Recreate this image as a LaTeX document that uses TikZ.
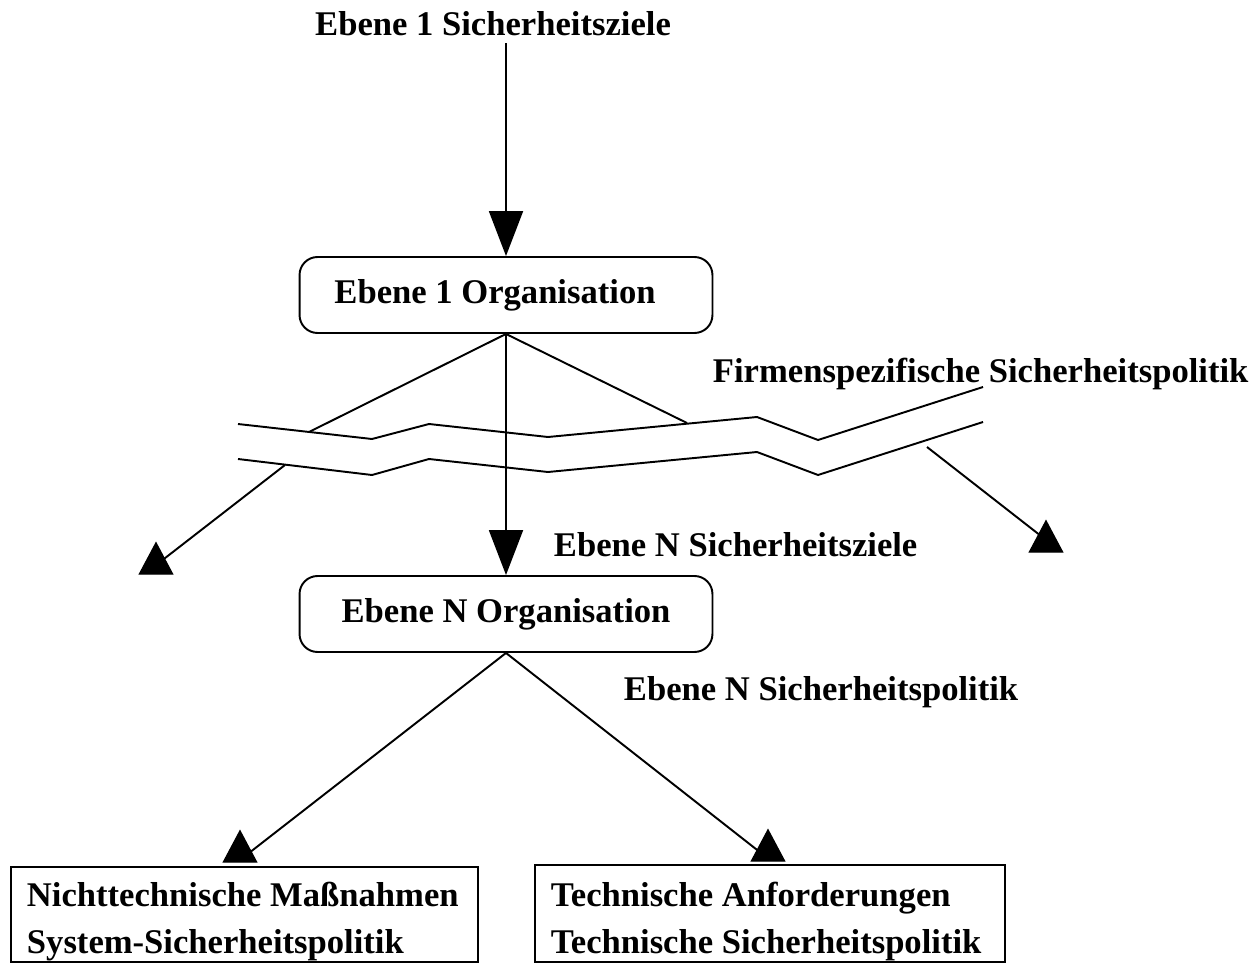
\documentclass[tikz,border=0pt]{standalone}
\usepackage{fontspec}
\setmainfont{Liberation Serif}
\usetikzlibrary{arrows.meta}
\begin{document}
\begin{tikzpicture}[x=0.02cm, y=-0.02cm, line width=1.1pt,
  lbl/.style={font=\fontsize{19.7}{26.2}\selectfont\bfseries, inner sep=0pt},
  orgbox/.style={draw, rounded corners=0.36cm, minimum width=8.26cm,
    minimum height=1.52cm, inner sep=0pt,
    font=\fontsize{19.7}{26.2}\selectfont\bfseries},
  leafbox/.style={draw, anchor=north west, inner sep=0pt},
  vhead/.style={-{Triangle[length=0.9cm, width=0.68cm]}},
  tri/.pic={\filldraw[line join=miter, line width=0.8pt]
    (0,-31) -- (16.5,0) -- (-16.5,0) -- cycle;}]
\useasboundingbox (0,0) rectangle (1258,963);

% organisation levels
\node[orgbox] (o1) at (506,295) {\hspace*{-0.44cm}Ebene 1 Organisation};
\node[orgbox] (oN) at (506,614) {Ebene N Organisation};

% labels
\node[lbl, anchor=base] (t1) at (493,36) {Ebene 1 Sicherheitsziele};
\node[lbl, anchor=base west] (fs) at (712,382) {Firmenspezifische Sicherheitspolitik};
\node[lbl, anchor=base west] (nz) at (553,556) {Ebene N Sicherheitsziele};
\node[lbl, anchor=base west] (np) at (623,700) {Ebene N Sicherheitspolitik};

% result boxes
\node[leafbox, minimum width=9.34cm, minimum height=1.9cm] (nt) at (10,866) {};
\node[leafbox, minimum width=9.4cm, minimum height=1.94cm] (tc) at (534,864) {};
\node[lbl, anchor=base west, align=left] (ntx) at (26,953)
  {Nichttechnische Maßnahmen\\System-Sicherheitspolitik};
\node[lbl, anchor=base west, align=left] (tcx) at (550,953)
  {Technische Anforderungen\\Technische Sicherheitspolitik};

% vertical flow
\draw[vhead] ([yshift=-0.12cm]t1.south -| o1.north) -- (o1.north);
\draw[vhead] (o1.south) -- (oN.north);

% branches cut by the break
\coordinate (ul) at (309,432);
\coordinate (ur) at (687,423);
\draw (o1.south) -- (ul);
\draw (o1.south) -- (ur);

\draw (238,424) -- (372,439) -- (429,424) -- (548,437) -- (757,417) -- (818,440) -- (983,387);
\draw (238,459) -- (372,475) -- (429,459) -- (548,472) -- (757,452) -- (818,475) -- (983,422);

\coordinate (ll0) at (285,465);
\coordinate (ll1) at (160,562);
\coordinate (lr0) at (927,447);
\coordinate (lr1) at (1041,536);
\draw (ll0) -- (ll1);
\draw (lr0) -- (lr1);
\pic at (156,574) {tri};
\pic at (1046,552) {tri};

% lower branches
\coordinate (bl) at (249,853);
\coordinate (br) at (761,853);
\draw (oN.south) -- (bl);
\draw (oN.south) -- (br);
\pic at (240,862) {tri};
\pic at (768,861) {tri};
\end{tikzpicture}
\end{document}
